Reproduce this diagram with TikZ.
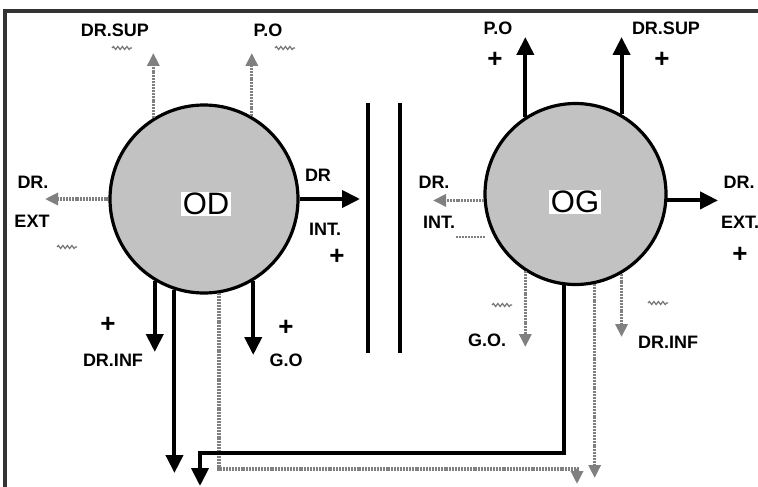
\documentclass[tikz,border=0pt]{standalone}
\usepackage{fontspec}
\setmainfont{Liberation Sans}
\usetikzlibrary{arrows.meta,decorations.pathmorphing}

\begin{document}
\begin{tikzpicture}[x=1pt,y=-1pt,
    disc/.style={circle,draw,line width=3.2pt,fill=black!24,minimum size=#1,inner sep=0pt},
    eye/.style={fill=white,inner sep=1.5pt,font=\fontsize{31}{31}\selectfont},
    lbl/.style={inner sep=0pt,font=\bfseries\fontsize{18}{18}\selectfont},
    plus/.style={inner sep=0pt,font=\bfseries\fontsize{26}{26}\selectfont},
    hard/.style={line width=4pt,-{Triangle[length=18pt,width=17pt]}},
    soft/.style={black!50,line width=3.2pt,dash pattern=on 2pt off 0.9pt,-{Triangle[length=13pt,width=12pt]}},
    wave/.style={black!55,line width=1.2pt,decorate,decoration={snake,amplitude=1.5pt,segment length=4.5pt}},
    bar/.style={line width=4pt}]
    \useasboundingbox (0,0) rectangle (758,487);
    \draw[line width=3.5pt,black!80] (5,487) -- (5,11) -- (758,11);

    \node[disc=188pt] (od) at (204,199) {};
    \node[disc=181pt] (og) at (575.5,194) {};
    \node[eye] (odt) at (206,204) {OD};
    \node[eye] (ogt) at (575,202) {OG};

    \draw[bar] (368,103) -- (368,353);
    \draw[bar] (400,103) -- (400,353);

    \coordinate (odsup) at (154,53);  \coordinate (odpo) at (251,53);
    \coordinate (odext) at (45,200);  \coordinate (odint) at (360,200);
    \coordinate (odinf) at (156,352); \coordinate (odgo) at (252,355);
    \coordinate (odlong) at (175,473);
    \coordinate (dturn) at (577,469); \coordinate (dend) at (577,484);
    \coordinate (ogpo) at (527,37);   \coordinate (ogsup) at (620,37);
    \coordinate (ogint) at (433,200); \coordinate (ogext) at (718,200);
    \coordinate (oggo) at (527,347);  \coordinate (oginf) at (620,337);
    \coordinate (oglong) at (595,478);
    \coordinate (bturn) at (200,453); \coordinate (bend) at (200,486);

    % OD
    \draw[soft] (od.122) -- (od.122 |- odsup);
    \draw[soft] (od.60) -- (od.60 |- odpo);
    \draw[soft] (od.180) -- (od.180 -| odext);
    \draw[hard] (od.0) -- (od.0 -| odint);
    \draw[hard] (od.239) -- (od.239 |- odinf);
    \draw[hard] (od.252) -- (od.252 |- odlong);
    \draw[hard] (od.301) -- (od.301 |- odgo);
    \draw[soft] (od.279) |- (dturn) -- (dend);

    % OG
    \draw[hard] (og.123) -- (og.123 |- ogpo);
    \draw[hard] (og.60) -- (og.60 |- ogsup);
    \draw[soft] (og.184) -- (og.184 -| ogint);
    \draw[hard] (og.356) -- (og.356 -| ogext);
    \draw[soft] (og.237) -- (og.237 |- oggo);
    \draw[soft] (og.300) -- (og.300 |- oginf);
    \draw[soft] (og.282) -- (og.282 |- oglong);
    \draw[hard,line join=miter] (og.263) |- (bturn) -- (bend);

    \node[lbl] (l1) at (115,30) {DR.SUP};
    \node[lbl] (l2) at (268,30) {P.O};
    \node[lbl] (l3) at (33,182) {DR.};
    \node[lbl] (l4) at (32,221) {EXT};
    \node[lbl] (l5) at (318,175) {DR};
    \node[lbl] (l6) at (325,229) {INT.};
    \node[plus] (p1) at (337,257) {+};
    \node[plus] (p2) at (108,325) {+};
    \node[lbl] (l7) at (113,360) {DR.INF};
    \node[plus] (p3) at (286,328) {+};
    \node[lbl] (l8) at (286,360) {G.O};

    \node[lbl] (m1) at (498,28) {P.O};
    \node[plus] (q1) at (495,60) {+};
    \node[lbl] (m2) at (666,28) {DR.SUP};
    \node[plus] (q2) at (662,60) {+};
    \node[lbl] (m3) at (434,182) {DR.};
    \node[lbl] (m4) at (439,222) {INT.};
    \node[lbl] (m5) at (739,182) {DR.};
    \node[lbl] (m6) at (740,222) {EXT.};
    \node[plus] (q3) at (740,255) {+};
    \node[lbl] (m7) at (487,340) {G.O.};
    \node[lbl] (m8) at (668,342) {DR.INF};

    \draw[wave] (112,48) -- (132,48);
    \draw[wave] (275,48) -- (295,48);
    \draw[wave] (57,247) -- (77,247);
    \draw[wave] (492,305) -- (512,305);
    \draw[wave] (648,303) -- (668,303);
    \draw[black!50,line width=2.4pt,dash pattern=on 2pt off 1pt] (456,237) -- (486,237);
\end{tikzpicture}
\end{document}
